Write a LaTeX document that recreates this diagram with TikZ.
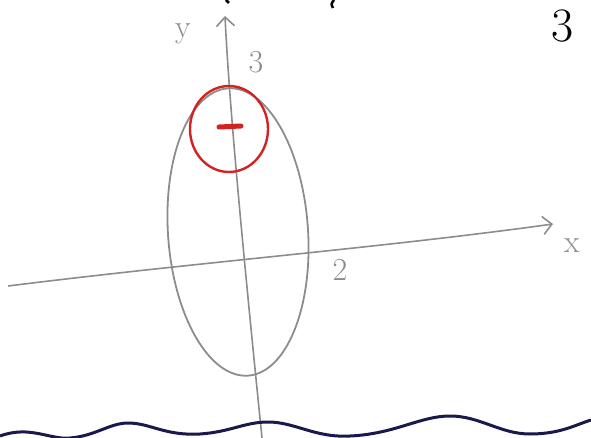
\documentclass[tikz,border=0pt]{standalone}
\usetikzlibrary{arrows.meta}
\definecolor{pencil}{RGB}{140,140,140}
\definecolor{redink}{RGB}{210,35,35}
\definecolor{navyink}{RGB}{25,25,75}
\tikzset{
    AXIS/.style={draw=pencil, line width=1.6pt,
        -{Straight Barb[length=9pt, width=18pt, line width=1.6pt]}},
    PENCIL/.style={draw=pencil, line width=1.8pt},
    RED_INK/.style={draw=redink, line width=2.4pt},
    WAVE/.style={draw=navyink, line width=3pt},
    LABEL/.style={text=pencil, inner sep=0pt, font={\fontsize{32}{32}\selectfont}},
    BIG_LABEL/.style={text=black, inner sep=0pt, font={\fontsize{48}{48}\selectfont}},
    MARK/.style={draw=black, line width=2.5pt}
}
\begin{document}
\begin{tikzpicture}[x=1pt, y=-1pt]
    \useasboundingbox (0,0) rectangle (591,438);
    % axes
    \coordinate (ybottom) at (262,438);
    \coordinate (ytop) at (225,16);
    \coordinate (xleft) at (8,286);
    \coordinate (xright) at (553,224);
    \draw[AXIS] (ybottom) .. controls (248,300) and (230,120) .. (ytop);
    \draw[AXIS] (xleft) .. controls (200,262) and (380,248) .. (xright);
    % ellipse
    \coordinate (ecentre) at (238,232);
    \draw[PENCIL, rotate around={4:(ecentre)}] (ecentre) ellipse [x radius=70, y radius=144];
    % red circle and its centre
    \coordinate (ccentre) at (229,129);
    \draw[RED_INK] (ccentre) ellipse [x radius=39, y radius=43];
    \coordinate (dotl) at (219,127);
    \coordinate (dotr) at (241,126);
    \draw[RED_INK, line width=5pt, line cap=round] (dotl) -- (dotr);
    % labels
    \node[LABEL] (ylabel) at (183,34) {y};
    \node[LABEL] (ythree) at (256,62) {3};
    \node[LABEL] (xlabel) at (572,246) {x};
    \node[LABEL] (xtwo) at (340,270) {2};
    \node[BIG_LABEL] (pagethree) at (563,26) {3};
    % cut-off marks at the top
    \draw[MARK] (226,0) -- (229,3);
    \draw[MARK] (334,0) .. controls (331,4) .. (333,8);
    % wavy line
    \coordinate (w0) at (0,436);
    \coordinate (w1) at (128,423);
    \coordinate (w2) at (268,422);
    \coordinate (w3) at (450,416);
    \coordinate (w4) at (591,420);
    \draw[WAVE] (w0) .. controls (30,425) and (50,440) .. (70,438)
        .. controls (95,436) and (110,423) .. (w1)
        .. controls (150,423) and (165,436) .. (200,434)
        .. controls (230,432) and (245,422) .. (w2)
        .. controls (295,422) and (315,438) .. (350,436)
        .. controls (395,434) and (420,416) .. (w3)
        .. controls (480,416) and (500,434) .. (530,434)
        .. controls (560,434) and (575,425) .. (w4);
\end{tikzpicture}
\end{document}
